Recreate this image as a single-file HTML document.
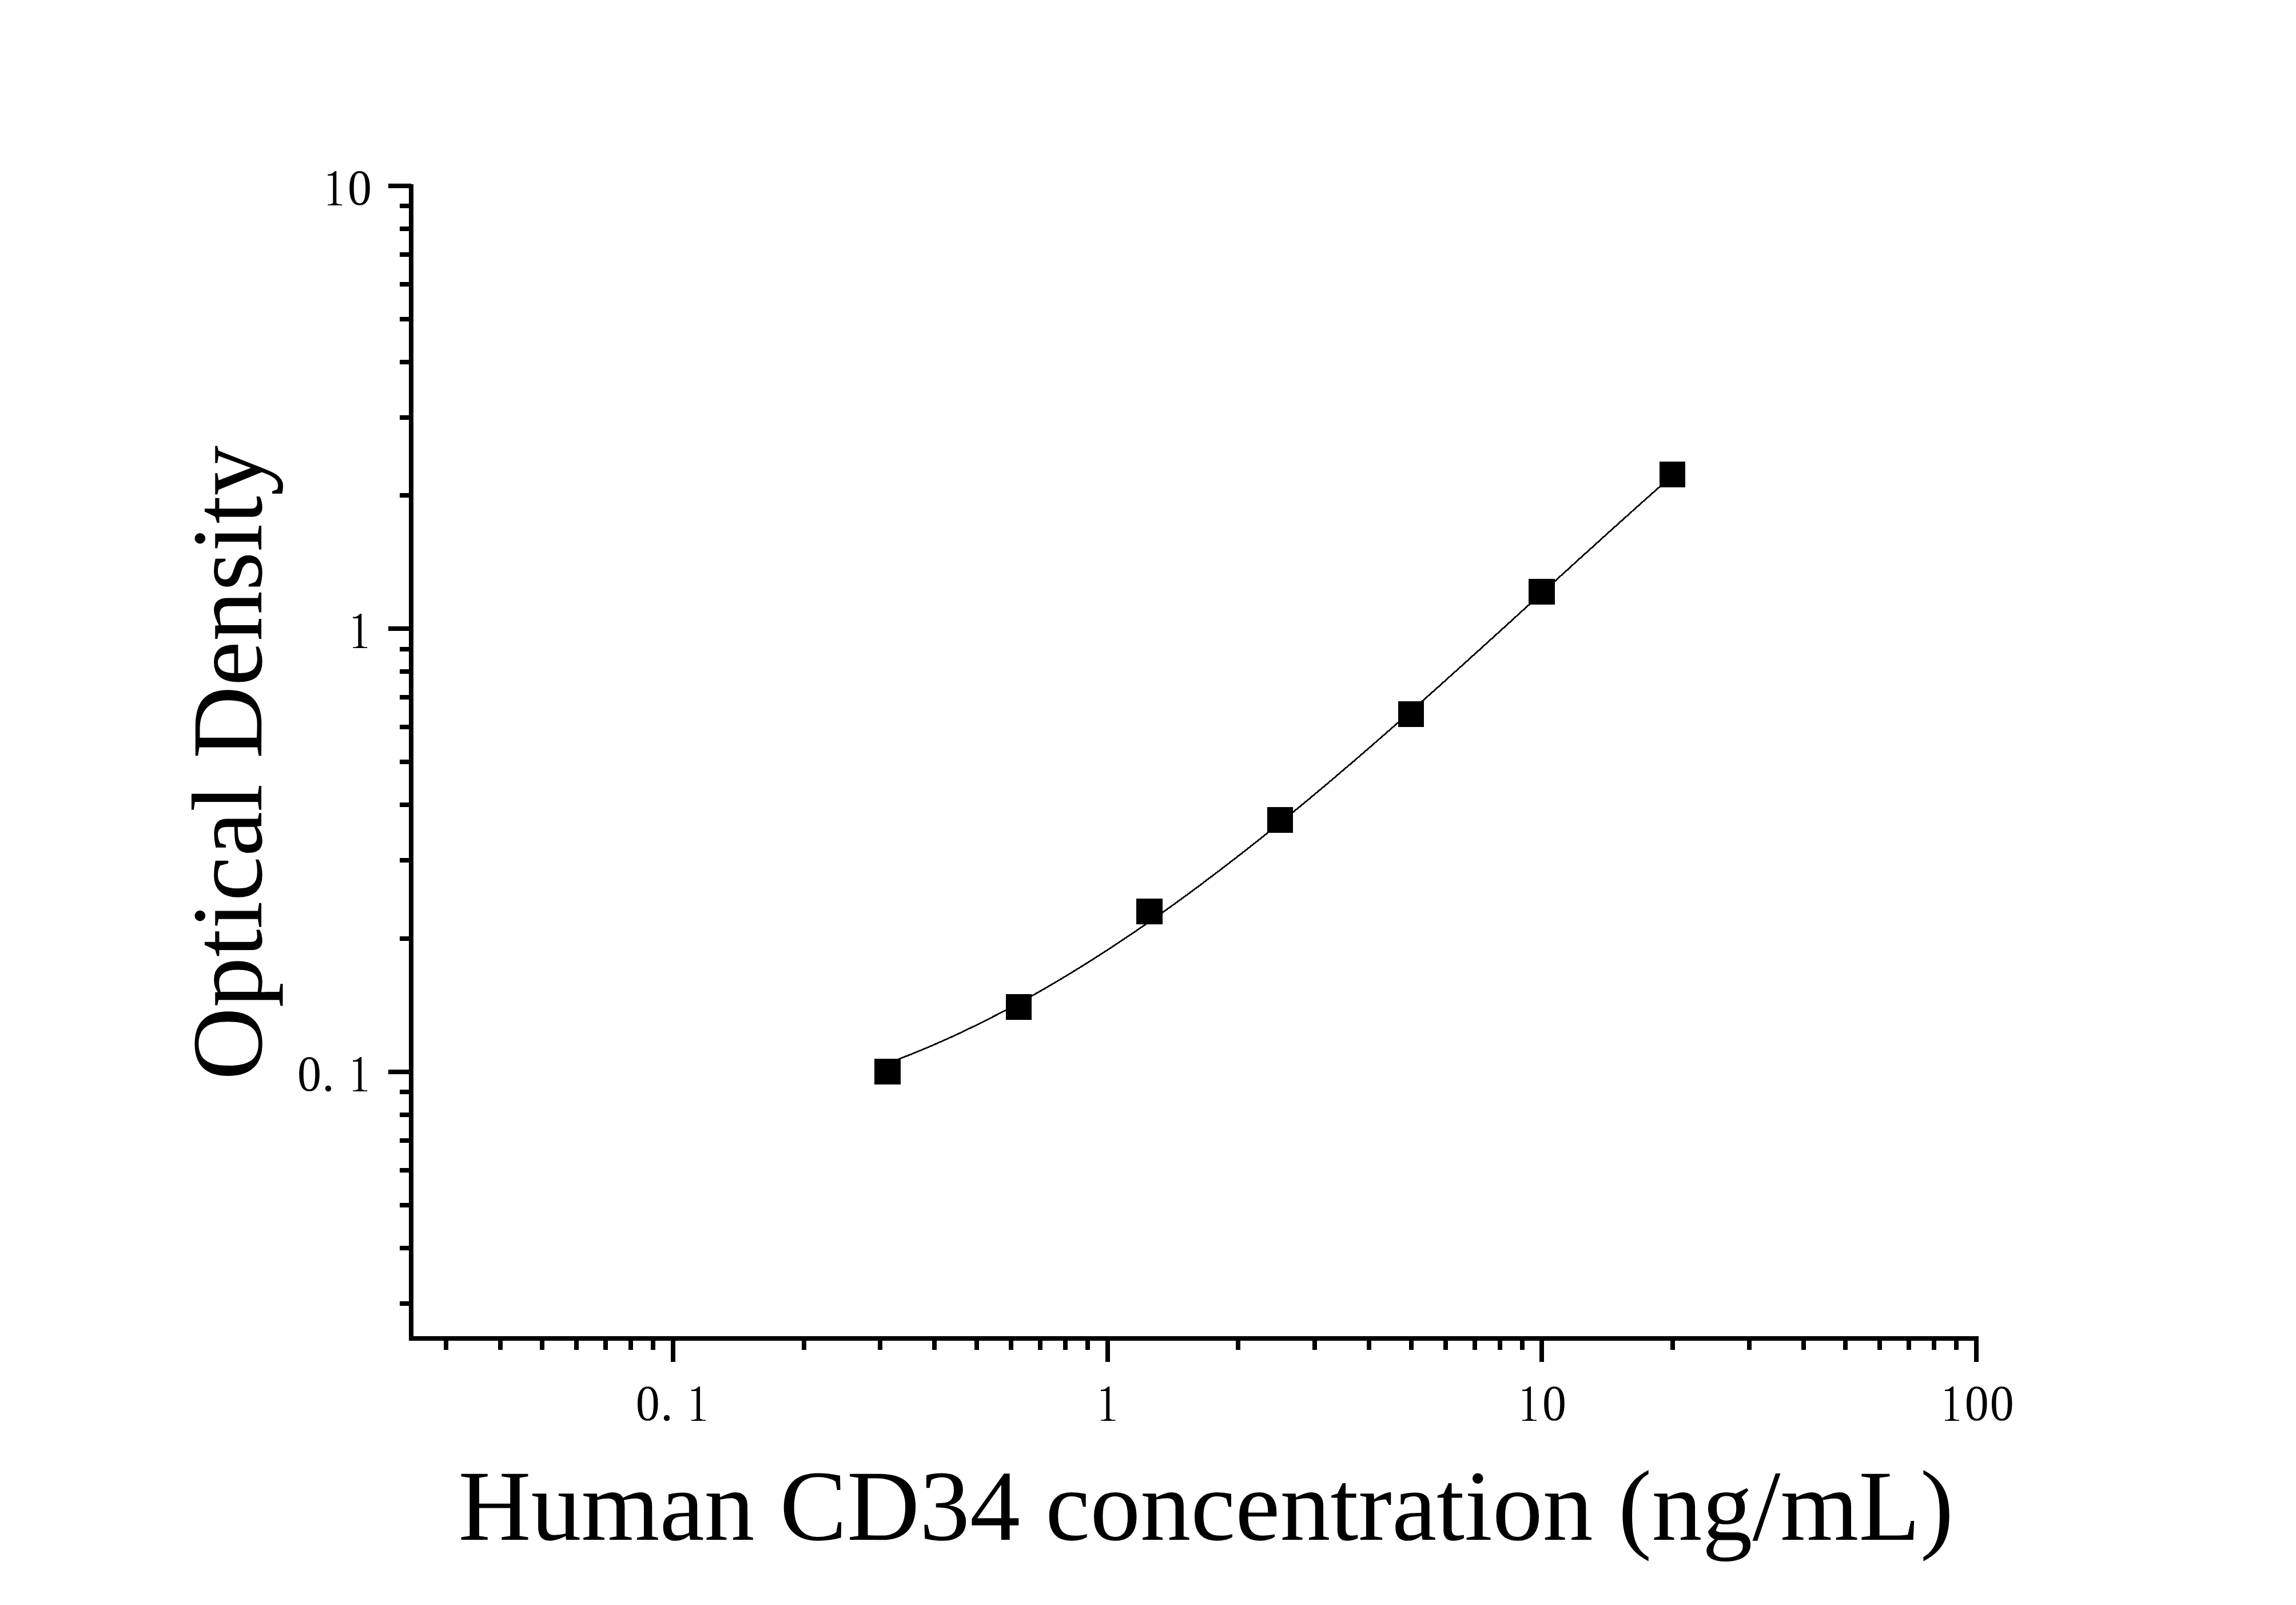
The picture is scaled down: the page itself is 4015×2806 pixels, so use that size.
<!DOCTYPE html>
<html lang="en"><head><meta charset="utf-8"><title>Human CD34 ELISA standard curve</title>
<style>
html,body{margin:0;padding:0;background:#fff;}
body{width:4015px;height:2806px;overflow:hidden;position:relative;font-family:"Liberation Serif",serif;color:#000;text-rendering:geometricPrecision;}
svg{position:absolute;left:0;top:0;display:block;}
/* every text box carries a zero-width strut <b>: the baseline is exactly the strut height below the box top */
.title{position:absolute;left:0;top:0;display:block;margin:0;padding:0;font-family:"Liberation Serif",serif;font-weight:normal;font-size:176px;line-height:0;white-space:nowrap;transform-origin:0 0;}
.title b{display:inline-block;width:0;height:200px;}
/* tick labels: fixed-pitch 44px cells (the original uses a fixed-pitch CJK serif for the digits) */
.tick{position:absolute;left:0;top:0;display:block;margin:0;padding:0;white-space:nowrap;font-size:0;line-height:0;transform-origin:0 0;}
.tick span{display:inline-block;vertical-align:baseline;width:44px;margin:0;padding:0;font-family:"Liberation Serif",serif;font-weight:normal;line-height:0;white-space:nowrap;text-align:left;transform-origin:0 0;}
.tick b{display:inline-block;width:0;height:100px;}
.tick span.z{font-size:88.7px;transform:translate(1.02px,-1px) scaleX(0.946);}
.tick span.d{font-size:88px;transform:translate(0.10px,-1px);}
.tick span.o{position:relative;font-size:0;}
.tick span.o span{font-size:91px;transform:translate(2.92px,0px) scaleX(0.805);clip-path:polygon(25.85px -10px,28.3px -10px,28.3px 93.5px,29.6px 96.6px,33px 98.2px,60px 98.2px,60px 144px,9px 144px,9px 98.2px,15.1px 98.2px,18.6px 96.6px,20px 93.5px,20px 46.7px,25.85px 39.2px);}
/* short horizontal flag for the digit 1 (SimSun-style) */
.tick span.o::before{content:"";position:absolute;left:10.2px;top:40.1px;display:block;width:13.8px;height:8px;background:#000;clip-path:polygon(0px 5.4px,4.2px 5.4px,7px 4.5px,9.3px 3px,11.3px 1.2px,12.8px 0px,13.8px 0px,13.8px 8px,0px 8px);}
</style></head>
<body>
<svg width="4015" height="2806" viewBox="0 0 4015 2806">
<g fill="#000" shape-rendering="crispEdges">
<rect x="715" y="322" width="8" height="2022"/>
<rect x="715" y="2336" width="2745" height="8"/>
<rect x="679" y="1870" width="37" height="8"/>
<rect x="679" y="1095" width="37" height="8"/>
<rect x="679" y="321" width="40" height="8"/>
<rect x="699" y="2275" width="17" height="8"/>
<rect x="699" y="2178" width="17" height="8"/>
<rect x="699" y="2103" width="17" height="8"/>
<rect x="699" y="2042" width="17" height="8"/>
<rect x="699" y="1990" width="17" height="8"/>
<rect x="699" y="1945" width="17" height="8"/>
<rect x="699" y="1905" width="17" height="8"/>
<rect x="699" y="1637" width="17" height="8"/>
<rect x="699" y="1500" width="17" height="8"/>
<rect x="699" y="1403" width="17" height="8"/>
<rect x="699" y="1328" width="17" height="8"/>
<rect x="699" y="1267" width="17" height="8"/>
<rect x="699" y="1215" width="17" height="8"/>
<rect x="699" y="1170" width="17" height="8"/>
<rect x="699" y="1131" width="17" height="8"/>
<rect x="699" y="862" width="17" height="8"/>
<rect x="699" y="726" width="17" height="8"/>
<rect x="699" y="629" width="17" height="8"/>
<rect x="699" y="554" width="17" height="8"/>
<rect x="699" y="493" width="17" height="8"/>
<rect x="699" y="441" width="17" height="8"/>
<rect x="699" y="396" width="17" height="8"/>
<rect x="699" y="356" width="17" height="8"/>
<rect x="1173" y="2343" width="8" height="38"/>
<rect x="1933" y="2343" width="8" height="38"/>
<rect x="2692" y="2343" width="8" height="38"/>
<rect x="3452" y="2343" width="8" height="38"/>
<rect x="776" y="2343" width="8" height="17"/>
<rect x="871" y="2343" width="8" height="17"/>
<rect x="944" y="2343" width="8" height="17"/>
<rect x="1004" y="2343" width="8" height="17"/>
<rect x="1055" y="2343" width="8" height="17"/>
<rect x="1099" y="2343" width="8" height="17"/>
<rect x="1138" y="2343" width="8" height="17"/>
<rect x="1402" y="2343" width="8" height="17"/>
<rect x="1535" y="2343" width="8" height="17"/>
<rect x="1630" y="2343" width="8" height="17"/>
<rect x="1704" y="2343" width="8" height="17"/>
<rect x="1764" y="2343" width="8" height="17"/>
<rect x="1815" y="2343" width="8" height="17"/>
<rect x="1859" y="2343" width="8" height="17"/>
<rect x="1898" y="2343" width="8" height="17"/>
<rect x="2161" y="2343" width="8" height="17"/>
<rect x="2295" y="2343" width="8" height="17"/>
<rect x="2390" y="2343" width="8" height="17"/>
<rect x="2464" y="2343" width="8" height="17"/>
<rect x="2524" y="2343" width="8" height="17"/>
<rect x="2575" y="2343" width="8" height="17"/>
<rect x="2619" y="2343" width="8" height="17"/>
<rect x="2658" y="2343" width="8" height="17"/>
<rect x="2921" y="2343" width="8" height="17"/>
<rect x="3055" y="2343" width="8" height="17"/>
<rect x="3150" y="2343" width="8" height="17"/>
<rect x="3223" y="2343" width="8" height="17"/>
<rect x="3283" y="2343" width="8" height="17"/>
<rect x="3334" y="2343" width="8" height="17"/>
<rect x="3378" y="2343" width="8" height="17"/>
<rect x="3417" y="2343" width="8" height="17"/>
<rect x="1529" y="1851" width="46" height="45"/>
<rect x="1759" y="1738" width="45" height="45"/>
<rect x="1987" y="1571" width="46" height="45"/>
<rect x="2216" y="1411" width="45" height="45"/>
<rect x="2445" y="1226" width="45" height="45"/>
<rect x="2673" y="1012" width="46" height="45"/>
<rect x="2902" y="807" width="45" height="45"/>
</g>
<path d="M1552.0 1859.0 L1565.9 1853.8 L1579.7 1848.5 L1593.6 1843.0 L1607.5 1837.3 L1621.3 1831.6 L1635.2 1825.6 L1649.0 1819.5 L1662.9 1813.3 L1676.8 1806.9 L1690.6 1800.3 L1704.5 1793.6 L1718.4 1786.8 L1732.2 1779.8 L1746.1 1772.6 L1760.0 1765.4 L1773.8 1758.0 L1787.7 1750.4 L1801.5 1742.7 L1815.4 1734.9 L1829.3 1726.9 L1843.1 1718.8 L1857.0 1710.6 L1870.9 1702.2 L1884.7 1693.7 L1898.6 1685.1 L1912.5 1676.3 L1926.3 1667.5 L1940.2 1658.5 L1954.0 1649.3 L1967.9 1640.1 L1981.8 1630.8 L1995.6 1621.3 L2009.5 1611.7 L2023.4 1602.0 L2037.2 1592.2 L2051.1 1582.3 L2065.0 1572.2 L2078.8 1562.1 L2092.7 1551.9 L2106.5 1541.5 L2120.4 1531.1 L2134.3 1520.5 L2148.1 1509.9 L2162.0 1499.2 L2175.9 1488.4 L2189.7 1477.5 L2203.6 1466.5 L2217.5 1455.4 L2231.3 1444.2 L2245.2 1433.0 L2259.0 1421.6 L2272.9 1410.2 L2286.8 1398.8 L2300.6 1387.2 L2314.5 1375.6 L2328.4 1363.9 L2342.2 1352.1 L2356.1 1340.3 L2370.0 1328.4 L2383.8 1316.5 L2397.7 1304.5 L2411.5 1292.4 L2425.4 1280.3 L2439.3 1268.1 L2453.1 1255.9 L2467.0 1243.7 L2480.9 1231.4 L2494.7 1219.0 L2508.6 1206.7 L2522.5 1194.3 L2536.3 1181.8 L2550.2 1169.4 L2564.0 1156.9 L2577.9 1144.3 L2591.8 1131.8 L2605.6 1119.2 L2619.5 1106.6 L2633.4 1094.1 L2647.2 1081.4 L2661.1 1068.8 L2675.0 1056.2 L2688.8 1043.6 L2702.7 1031.0 L2716.5 1018.3 L2730.4 1005.7 L2744.3 993.1 L2758.1 980.5 L2772.0 967.9 L2785.9 955.4 L2799.7 942.8 L2813.6 930.3 L2827.5 917.8 L2841.3 905.4 L2855.2 892.9 L2869.0 880.5 L2882.9 868.2 L2896.8 855.9 L2910.6 843.6 L2924.5 831.4" fill="none" stroke="#000" stroke-width="2.8" stroke-linejoin="round" shape-rendering="crispEdges"/>
</svg>
<div class="tick" style="transform:translate(563.00px,259px)"><span class="o"><span><b></b>1</span></span><span class="z"><b></b>0</span></div>
<div class="tick" style="transform:translate(607.00px,1033px)"><span class="o"><span><b></b>1</span></span></div>
<div class="tick" style="transform:translate(519.00px,1808px)"><span class="z"><b></b>0</span><span class="d"><b></b>.</span><span class="o"><span><b></b>1</span></span></div>
<div class="tick" style="transform:translate(1110.84px,2384px)"><span class="z"><b></b>0</span><span class="d"><b></b>.</span><span class="o"><span><b></b>1</span></span></div>
<div class="tick" style="transform:translate(1915.00px,2384px)"><span class="o"><span><b></b>1</span></span></div>
<div class="tick" style="transform:translate(2651.90px,2384px)"><span class="o"><span><b></b>1</span></span><span class="z"><b></b>0</span></div>
<div class="tick" style="transform:translate(3390.80px,2384px)"><span class="o"><span><b></b>1</span></span><span class="z"><b></b>0</span><span class="z"><b></b>0</span></div>
<div class="title" id="xtitle" style="transform:translate(801.43px,2492px)"><b></b>Human CD34 concentration (ng/mL)</div>
<div class="title" id="ytitle" style="transform:translate(256.90px,1888.32px) rotate(-90deg)"><b></b>Optical Density</div>
</body></html>
